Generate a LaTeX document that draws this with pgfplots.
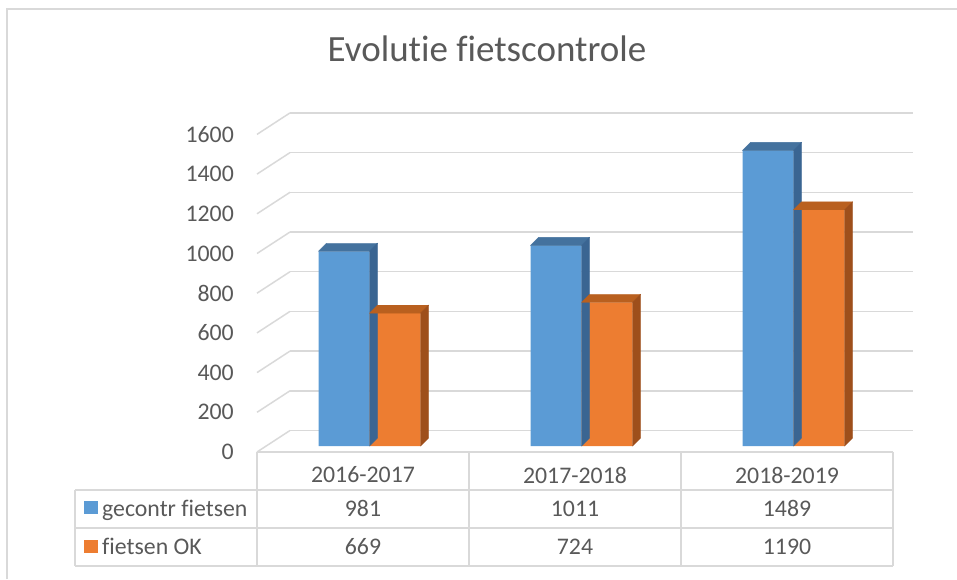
\documentclass[border=0pt]{standalone}
\usepackage{pgfplots}
\pgfplotsset{compat=1.18}
\usepackage{pgfplotstable}
\usepackage{fontspec}
\setmainfont{Carlito}[Ligatures=NoCommon]
\definecolor{txt}{HTML}{595959}
\definecolor{gridc}{HTML}{D9D9D9}
\definecolor{blueF}{HTML}{5B9BD5}
\definecolor{blueT}{HTML}{44729E}
\definecolor{blueS}{HTML}{3A6592}
\definecolor{oranF}{HTML}{ED7D31}
\definecolor{oranT}{HTML}{B9601F}
\definecolor{oranS}{HTML}{9E4F1B}

\pgfplotstableread{
x blue orange
0 981 669
1 1011 724
2 1489 1190
}\data

\newcommand\lbl{\fontsize{23.8}{28}\selectfont}
\pgfmathsetmacro\ys{317.6/1600}

\begin{document}
\begin{tikzpicture}[x=1pt,y=1pt]
\useasboundingbox (0,0) rectangle (957,579);
% frame
\draw[gridc, line width=1.5pt] (7,0) -- (7,570) -- (957,570);
% title
\node[anchor=base, text=txt, font=\fontsize{37}{44}\selectfont, inner sep=0pt] at (487,517) {Evolutie fietscontrole};

% back wall gridlines
\begin{axis}[at={(290pt,148.5pt)}, anchor=south west, scale only axis,
  width=623pt, height=317.6pt, xmin=0, xmax=1, ymin=0, ymax=1600,
  ytick={0,200,...,1600}, xtick=\empty, yticklabels={},
  ymajorgrids, grid style={gridc, line width=1.5pt},
  axis line style={draw=none}, major tick length=0pt]
\end{axis}
\foreach \k in {0,...,8} \draw[gridc, line width=1.5pt] (257,{127+\k*39.7}) -- (290,{148.5+\k*39.7});

% front plane: tick labels
\begin{axis}[at={(257pt,127pt)}, anchor=south west, scale only axis,
  width=636pt, height=317.6pt, xmin=-0.5, xmax=2.5, ymin=0, ymax=1600,
  ytick={0,200,...,1600}, xtick={0,1,2},
  xticklabels={2016-2017,2017-2018,2018-2019},
  axis line style={draw=none}, major tick length=0pt,
  /pgf/number format/assume math mode=true,
  /pgf/number format/1000 sep={},
  tick label style={font=\lbl, text=txt, inner sep=0pt},
  yticklabel style={anchor=east}, yticklabel shift=23pt,
  xticklabel style={anchor=center}, xticklabel shift=23pt]
\end{axis}

% bars
\begin{axis}[at={(263.5pt,133pt)}, anchor=south west, scale only axis,
  width=636pt, height=317.6pt, xmin=-0.5, xmax=2.5, ymin=0, ymax=1600,
  hide axis, clip=false]
\addplot[only marks, mark=*, mark size=0pt, mark options={draw=none,fill=none}, scatter,
  visualization depends on={\thisrow{blue} \as \val},
  scatter/@pre marker code/.code={%
    \pgfmathsetmacro\h{\val*\ys}%
    \fill[blueT] (-51pt,0pt) -- (0pt,0pt) -- (8pt,8pt) -- (-43pt,8pt) -- cycle;
    \fill[blueS] (0pt,0pt) -- (8pt,8pt) -- (8pt,8pt-\h pt) -- (0pt,-\h pt) -- cycle;},
  scatter/@post marker code/.code={}]
  table[x=x, y=blue] {\data};
\addplot[ybar, bar width=51pt, bar shift=-25.5pt, fill=blueF, draw=none]
  table[x=x, y=blue] {\data};
\addplot[only marks, mark=*, mark size=0pt, mark options={draw=none,fill=none}, scatter,
  visualization depends on={\thisrow{orange} \as \val},
  scatter/@pre marker code/.code={%
    \pgfmathsetmacro\h{\val*\ys}%
    \fill[oranT] (0pt,0pt) -- (51pt,0pt) -- (59pt,8pt) -- (8pt,8pt) -- cycle;
    \fill[oranS] (51pt,0pt) -- (59pt,8pt) -- (59pt,8pt-\h pt) -- (51pt,-\h pt) -- cycle;},
  scatter/@post marker code/.code={}]
  table[x=x, y=orange] {\data};
\addplot[ybar, bar width=51pt, bar shift=25.5pt, fill=oranF, draw=none]
  table[x=x, y=orange] {\data};
\end{axis}

% data table
\begin{scope}[gridc, line width=1.5pt]
\draw (257,127) -- (893,127);
\draw (75,89) -- (893,89);
\draw (75,51) -- (893,51);
\draw (75,13) -- (893,13);
\draw (75,89) -- (75,13);
\foreach \xx in {257,469,681,893} \draw (\xx,127) -- (\xx,13);
\end{scope}
\fill[blueF] (84,65) rectangle (98,78);
\fill[oranF] (84,26) rectangle (98,39);
\begin{scope}[every node/.style={text=txt, font=\lbl, inner sep=0pt}]
\node[anchor=base west] at (102,62.5) {gecontr fietsen};
\node[anchor=base west] at (102,24.5) {fietsen OK};
\node[anchor=base] at (363,62.5) {981};
\node[anchor=base] at (575,62.5) {1011};
\node[anchor=base] at (787,62.5) {1489};
\node[anchor=base] at (363,24.5) {669};
\node[anchor=base] at (575,24.5) {724};
\node[anchor=base] at (787,24.5) {1190};
\end{scope}
\end{tikzpicture}
\end{document}
